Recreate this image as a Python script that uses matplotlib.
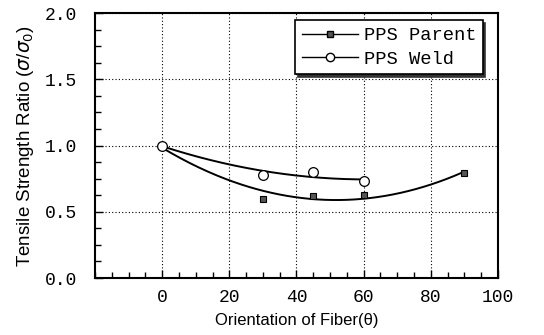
import numpy as np
import matplotlib
matplotlib.use("Agg")
import matplotlib.pyplot as plt
from matplotlib.ticker import MultipleLocator

# fiber orientation (deg) and tensile strength ratio sigma/sigma0
parent_angle = [0, 30, 45, 60, 90]
parent_ratio = [1.00, 0.60, 0.62, 0.63, 0.79]
weld_angle = [0, 30, 45, 60]
weld_ratio = [1.00, 0.78, 0.80, 0.73]

mono = "Liberation Mono"
sans = "Liberation Sans"

fig = plt.figure(figsize=(5.44, 3.35), dpi=100)
ax = fig.add_axes([0.1746, 0.170, 0.7408, 0.791])

# quadratic trend lines through each data set
cp = np.polyfit(parent_angle, parent_ratio, 2)
xp = np.linspace(0, 90, 200)
cw = np.polyfit(weld_angle, weld_ratio, 2)
xw = np.linspace(0, 60, 200)
ax.plot(xp, np.polyval(cp, xp), color="black", lw=1.4)
ax.plot(xw, np.polyval(cw, xw), color="black", lw=1.4)

ax.plot(parent_angle, parent_ratio, ls="none", marker="s", ms=5,
        mfc="#555555", mec="black", mew=0.8)
ax.plot(weld_angle, weld_ratio, ls="none", marker="o", ms=7,
        mfc="white", mec="black", mew=0.9)

# legend proxies: line with marker in the middle
h1, = ax.plot([], [], color="black", lw=1.0, marker="s", ms=4,
              mfc="#555555", mec="black", label="PPS Parent")
h2, = ax.plot([], [], color="black", lw=1.0, marker="o", ms=6,
              mfc="white", mec="black", label="PPS Weld")
leg = ax.legend(handles=[h1, h2], loc="upper right",
                bbox_to_anchor=(0.962, 0.972), borderaxespad=0,
                prop={"family": mono, "size": 13.5},
                frameon=True, fancybox=False, handlelength=3.0,
                handletextpad=0.3, borderpad=0.35, labelspacing=0.35,
                numpoints=1, shadow={"color": "#333333", "alpha": 1.0})
leg.get_frame().set_edgecolor("black")
leg.get_frame().set_linewidth(1.2)

ax.set_xlim(-20, 100)
ax.set_ylim(0, 2.0)
ax.set_xticks([0, 20, 40, 60, 80, 100])
ax.xaxis.set_minor_locator(MultipleLocator(5))
ax.yaxis.set_major_locator(MultipleLocator(0.5))
ax.yaxis.set_minor_locator(MultipleLocator(0.125))
ax.set_yticklabels(["%.1f" % v for v in ax.get_yticks()])

ax.tick_params(which="both", direction="in", top=False, right=False,
               color="black", width=1.0)
ax.tick_params(axis="x", which="major", length=6, pad=8)
ax.tick_params(axis="y", which="major", length=6, pad=13)
ax.tick_params(which="minor", length=4)
for lab in ax.get_xticklabels() + ax.get_yticklabels():
    lab.set_fontfamily(mono)
    lab.set_fontsize(13)

ax.grid(True, which="major", ls=(0, (1, 2)), color="black", lw=0.8)
for s in ax.spines.values():
    s.set_linewidth(1.5)

ax.set_xlabel("Orientation of Fiber(\u03b8)", family=sans, fontsize=12,
              labelpad=5)
ax.set_ylabel(r"Tensile Strength Ratio ($\sigma$/$\sigma_0$)", family=sans,
              fontsize=13.5, labelpad=6)

fig.savefig("out.png", dpi=100)
